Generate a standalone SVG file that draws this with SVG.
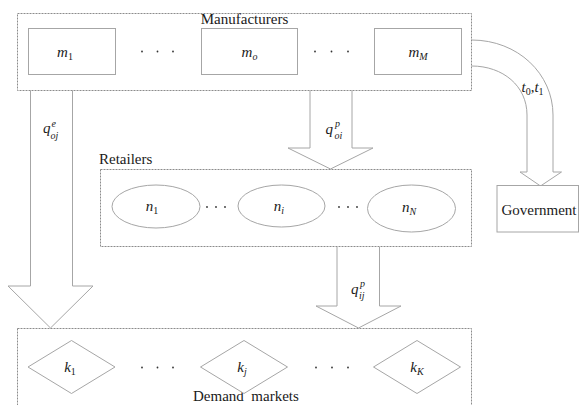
<svg xmlns="http://www.w3.org/2000/svg" width="580" height="405" viewBox="0 0 580 405">
<style>
.grp{fill:none;stroke:#8c8c8c;stroke-width:1;stroke-dasharray:2 1}
.shape{fill:#fff;stroke:#a6a6a6;stroke-width:1}
.arrow{fill:#fff;stroke:#a6a6a6;stroke-width:1;stroke-linejoin:miter}
text{font-family:'Liberation Serif','Times New Roman',Times,serif;font-size:15px;fill:#1a1a1a}
.m{font-style:italic}
.sub{font-size:10px}
.up{font-style:normal}
.dot{fill:#333}
</style>
<rect width="580" height="405" fill="#fff"/>

<g id="connectors" font-family="Liberation Serif, serif">
  <path class="arrow" d="M30.5,90.5 L30.5,286 L8,286 L50.5,328 L93,286 L72.5,286 L72.5,90.5"/>
  <path class="arrow" d="M310,90.5 L310,148 L288,148 L330.5,169 L373,148 L352,148 L352,90.5"/>
  <path class="arrow" d="M337,247 L337,306 L316,306 L358.5,328 L401,306 L379.5,306 L379.5,247"/>
  <path class="arrow" d="M471.5,40 C518,40 553,74 553,115 L553,172 L561.5,172 L540.5,186 L520,172 L527,172 L527,115 C527,86 503,66 471.5,66"/>
  <text class="m" x="43" y="133">q</text>
  <text class="m sub" x="51.5" y="127">e</text>
  <text class="m sub" x="50.5" y="139">oj</text>
  <text class="m" x="325.5" y="134">q</text>
  <text class="m sub" x="335" y="127">p</text>
  <text class="m sub" x="334.5" y="139">oi</text>
  <text class="m" x="351" y="294">q</text>
  <text class="m sub" x="360" y="287">p</text>
  <text class="m sub" x="359" y="299">ij</text>
  <text class="m" x="521.5" y="92">t<tspan class="sub up" dy="3">0</tspan><tspan class="up" dy="-3">,</tspan>t<tspan class="sub up" dy="3">1</tspan></text>
</g>

<g id="manufacturers">
  <rect class="grp" x="17.5" y="13.5" width="454" height="77"/>
  <text x="244.5" y="23.5" text-anchor="middle">Manufacturers</text>
  <circle class="dot" cx="142" cy="51.5" r="0.9"/><circle class="dot" cx="157.5" cy="51.5" r="0.9"/><circle class="dot" cx="173" cy="51.5" r="0.9"/>
  <circle class="dot" cx="315" cy="51.5" r="0.9"/><circle class="dot" cx="331.5" cy="51.5" r="0.9"/><circle class="dot" cx="348" cy="51.5" r="0.9"/>
</g>
<g id="m1">
  <rect class="shape" x="28.5" y="28.5" width="87" height="46"/>
  <text class="m" x="65" y="57" text-anchor="middle">m<tspan class="sub up" dy="3">1</tspan></text>
</g>
<g id="mo">
  <rect class="shape" x="201.5" y="28.5" width="96" height="46"/>
  <text class="m" x="249.5" y="57" text-anchor="middle">m<tspan class="sub" dy="3">o</tspan></text>
</g>
<g id="mM">
  <rect class="shape" x="374.5" y="28.5" width="87" height="46"/>
  <text class="m" x="418" y="57" text-anchor="middle">m<tspan class="sub" dy="3">M</tspan></text>
</g>

<g id="retailers">
  <rect class="grp" x="100.5" y="169.5" width="371" height="77"/>
  <text x="99" y="164">Retailers</text>
  <circle class="dot" cx="207" cy="207" r="0.9"/><circle class="dot" cx="216" cy="207" r="0.9"/><circle class="dot" cx="225" cy="207" r="0.9"/>
  <circle class="dot" cx="339" cy="207" r="0.9"/><circle class="dot" cx="348" cy="207" r="0.9"/><circle class="dot" cx="357" cy="207" r="0.9"/>
</g>
<g id="n1">
  <ellipse class="shape" cx="156" cy="206.5" rx="44" ry="21.5"/>
  <text class="m" x="152" y="211" text-anchor="middle">n<tspan class="sub up" dy="3">1</tspan></text>
</g>
<g id="ni">
  <ellipse class="shape" cx="281.5" cy="206" rx="43.5" ry="21"/>
  <text class="m" x="279" y="211" text-anchor="middle">n<tspan class="sub" dy="3">i</tspan></text>
</g>
<g id="nN">
  <ellipse class="shape" cx="411.5" cy="208.5" rx="44" ry="23.5"/>
  <text class="m" x="409" y="212" text-anchor="middle">n<tspan class="sub" dy="3">N</tspan></text>
</g>

<g id="government">
  <rect class="shape" x="497" y="185.5" width="81.5" height="46.5"/>
  <text x="539" y="214.5" text-anchor="middle">Government</text>
</g>

<g id="demand">
  <rect class="grp" x="17.5" y="328.5" width="454" height="90"/>
  <text x="193" y="401" xml:space="preserve">Demand  markets</text>
  <circle class="dot" cx="142" cy="367.5" r="0.9"/><circle class="dot" cx="157.5" cy="367.5" r="0.9"/><circle class="dot" cx="173" cy="367.5" r="0.9"/>
  <circle class="dot" cx="316" cy="367.5" r="0.9"/><circle class="dot" cx="332" cy="367.5" r="0.9"/><circle class="dot" cx="348" cy="367.5" r="0.9"/>
</g>
<g id="k1">
  <polygon class="shape" points="28,367 71.5,340.5 115,367 71.5,393.5"/>
  <text class="m" x="70" y="372" text-anchor="middle">k<tspan class="sub up" dy="3">1</tspan></text>
</g>
<g id="kj">
  <polygon class="shape" points="200.5,367 244,340.5 287.5,367 244,393.5"/>
  <text class="m" x="242" y="372" text-anchor="middle">k<tspan class="sub" dy="3">j</tspan></text>
</g>
<g id="kK">
  <polygon class="shape" points="373.5,367 417,340.5 460.5,367 417,393.5"/>
  <text class="m" x="417" y="372" text-anchor="middle">k<tspan class="sub" dy="3">K</tspan></text>
</g>
</svg>
